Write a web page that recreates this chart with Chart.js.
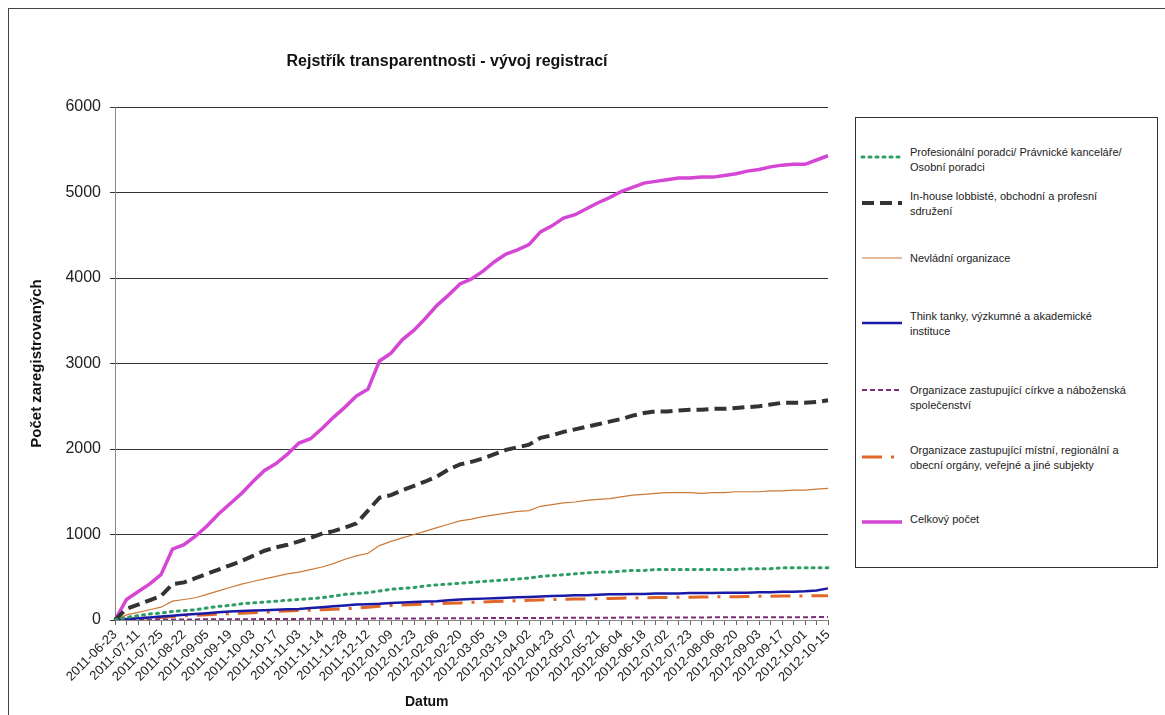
<!DOCTYPE html>
<html>
<head>
<meta charset="utf-8">
<script src="https://cdn.jsdelivr.net/npm/chart.js@4/dist/chart.umd.min.js"></script>
<style>
  html, body { margin:0; padding:0; background:#fff; width:1165px; height:715px; overflow:hidden; }
  body { position:relative; font-family:"Liberation Sans", Arial, sans-serif; }
  #frame { position:absolute; left:8px; top:8px; width:1200px; height:800px; border:1px solid #444; }
  #c { position:absolute; left:0; top:0; }
  #title { position:absolute; left:0; width:894px; top:52px; text-align:center; font-weight:bold; font-size:16px; color:#111; }
  #xtitle { position:absolute; left:405px; top:693px; font-weight:bold; font-size:14px; color:#111; }
  #legend { position:absolute; left:855px; top:117px; width:301px; height:449px; border:1px solid #333; background:#fff; }
  .item { position:absolute; left:0; width:300px; font-size:11px; line-height:15px; color:#222; }
  .item svg { position:absolute; left:4px; }
  .item .txt { position:absolute; left:54px; width:245px; white-space:nowrap; }
</style>
</head>
<body>
<div id="frame"></div>
<canvas id="c" width="1165" height="715"></canvas>
<div id="title">Rejstřík transparentnosti - vývoj registrací</div>
<div id="xtitle">Datum</div>
<div id="legend"></div>
<script>
const labels = [
 "2011-06-23","2011-07-04","2011-07-11","2011-07-18","2011-07-25","2011-08-08","2011-08-22","2011-08-29","2011-09-05","2011-09-12",
 "2011-09-19","2011-09-26","2011-10-03","2011-10-10","2011-10-17","2011-10-24","2011-11-03","2011-11-07","2011-11-14","2011-11-21",
 "2011-11-28","2011-12-05","2011-12-12","2011-12-19","2012-01-09","2012-01-16","2012-01-23","2012-01-30","2012-02-06","2012-02-13",
 "2012-02-20","2012-02-27","2012-03-05","2012-03-12","2012-03-19","2012-03-26","2012-04-02","2012-04-16","2012-04-23","2012-04-30",
 "2012-05-07","2012-05-14","2012-05-21","2012-05-28","2012-06-04","2012-06-11","2012-06-18","2012-06-25","2012-07-02","2012-07-16",
 "2012-07-23","2012-07-30","2012-08-06","2012-08-13","2012-08-20","2012-08-27","2012-09-03","2012-09-10","2012-09-17","2012-09-24",
 "2012-10-01","2012-10-08","2012-10-15"
];
const professional = [0,30,50,70,80,100,110,120,140,160,
 170,190,200,210,220,230,240,250,260,280,
 300,310,320,340,360,370,380,400,410,420,
 430,440,450,460,470,480,490,510,520,530,
 540,550,560,560,570,580,580,590,590,590,
 590,590,590,590,590,600,600,600,610,610,
 610,610,610];
const inhouse = [0,130,180,230,280,420,440,490,540,590,
 640,690,750,810,850,880,920,960,1010,1040,
 1080,1130,1280,1430,1460,1520,1570,1620,1680,1760,
 1820,1850,1890,1940,1990,2020,2050,2130,2160,2200,
 2230,2260,2290,2320,2350,2390,2420,2440,2440,2450,
 2460,2460,2470,2470,2480,2490,2500,2520,2540,2540,
 2540,2550,2570];
const ngo = [0,60,90,120,150,220,240,260,300,340,
 380,420,450,480,510,540,560,590,620,660,
 710,750,780,870,920,960,1000,1040,1080,1120,
 1160,1180,1210,1230,1250,1270,1280,1330,1350,1370,
 1380,1400,1410,1420,1440,1460,1470,1480,1490,1490,
 1490,1480,1490,1490,1500,1500,1500,1510,1510,1520,
 1520,1530,1540];
const thinkTanks = [0,10,20,30,40,50,60,70,80,90,
 100,105,110,115,120,125,130,140,150,160,
 170,180,185,190,200,205,210,215,220,230,
 240,245,250,255,260,265,270,275,280,285,
 290,290,295,300,300,305,305,310,310,310,
 315,315,315,320,320,320,325,325,330,330,
 335,345,370];
const churches = [0,2,3,4,5,6,6,7,8,8,
 9,10,10,11,12,12,13,14,14,15,
 15,16,16,17,18,18,19,19,20,20,
 21,21,22,22,23,23,24,24,25,25,
 26,26,27,27,28,28,29,29,29,30,
 30,30,31,31,31,32,32,32,33,33,
 33,34,35];
const localGov = [0,10,20,25,30,40,50,55,60,70,
 75,80,85,90,100,105,110,115,120,125,
 130,140,150,160,170,175,180,185,190,195,
 200,205,210,215,220,225,230,235,240,242,
 245,247,250,252,255,257,260,262,263,265,
 267,268,270,272,273,275,277,278,280,280,
 282,283,285];
const total = [0,240,330,420,530,830,880,980,1100,1240,
 1360,1480,1620,1750,1830,1940,2070,2120,2240,2370,
 2490,2620,2700,3030,3120,3280,3390,3530,3680,3800,
 3930,3990,4080,4190,4280,4330,4390,4540,4610,4700,
 4740,4810,4880,4940,5010,5060,5110,5130,5150,5170,
 5170,5180,5180,5200,5220,5250,5270,5300,5320,5330,
 5330,5380,5430];
const seriesNames = [
 "Profesionální poradci/ Právnické kanceláře/ Osobní poradci",
 "In-house lobbisté, obchodní a profesní sdružení",
 "Nevládní organizace",
 "Think tanky, výzkumné a akademické instituce",
 "Organizace zastupující církve a náboženská společenství",
 "Organizace zastupující místní, regionální a obecní orgány, veřejné a jiné subjekty",
 "Celkový počet"
];
const yTicks = [0,1000,2000,3000,4000,5000,6000];

const styles = [
 {color:'#2e9e64', width:3, dash:[2,5], cap:'round'},
 {color:'#333333', width:4, dash:[12,6], cap:'butt'},
 {color:'#cc7a38', width:1.2, dash:[], cap:'butt'},
 {color:'#1a1aa6', width:2.5, dash:[], cap:'butt'},
 {color:'#7a2e78', width:2, dash:[5,3], cap:'butt'},
 {color:'#e2682a', width:3, dash:[20,9,3,9], cap:'butt'},
 {color:'#d546d5', width:3.5, dash:[], cap:'butt'}
];
const values = [professional, inhouse, ngo, thinkTanks, churches, localGov, total];

const datasets = values.map((v,i)=>({
  label: seriesNames[i],
  data: v,
  borderColor: styles[i].color,
  borderWidth: styles[i].width,
  borderDash: styles[i].dash,
  borderCapStyle: styles[i].cap,
  pointRadius: 0,
  tension: 0,
  fill: false
}));

const FONT = '"Liberation Sans", Arial, sans-serif';

new Chart(document.getElementById('c'), {
  type: 'line',
  data: { labels: labels, datasets: datasets },
  options: {
    responsive: false,
    animation: false,
    layout: { padding: { left: 0, top: 107, right: 337, bottom: 0 } },
    plugins: { legend: { display: false }, tooltip: { enabled: false }, title: { display: false } },
    scales: {
      x: {
        grid: { drawOnChartArea: false, drawTicks: true, tickLength: 5, color: '#666' },
        border: { color: '#888' },
        ticks: {
          autoSkip: false, maxRotation: 45, minRotation: 45, padding: 2,
          font: { size: 13, family: FONT }, color: '#222',
          callback: (v, i) => (i % 2 === 0 ? labels[i] : '')
        },
        afterFit: (s) => { s.height = 95; }
      },
      y: {
        min: 0, max: 6000,
        afterBuildTicks: (s) => { s.ticks = yTicks.map(v => ({ value: v })); },
        ticks: { font: { size: 16, family: FONT }, color: '#222', padding: 9,
                 callback: (v) => String(v) },
        grid: { color: '#333', tickLength: 5 },
        border: { color: '#888' },
        title: { display: true, text: 'Počet zaregistrovaných', color: '#111',
                 font: { size: 15, weight: 'bold', family: FONT },
                 padding: { top: 28, bottom: 0 } },
        afterFit: (s) => { s.width = 115; }
      }
    }
  }
});

// HTML legend
const legendLayout = [
  {top: 145, sampleY: 12, lines: ["Profesionální poradci/ Právnické kanceláře/", "Osobní poradci"]},
  {top: 189, sampleY: 14, lines: ["In-house lobbisté, obchodní a profesní", "sdružení"]},
  {top: 251, sampleY: 7,  lines: ["Nevládní organizace"]},
  {top: 309, sampleY: 14, lines: ["Think tanky, výzkumné a akademické", "instituce"]},
  {top: 383, sampleY: 7,  lines: ["Organizace zastupující církve a náboženská", "společenství"]},
  {top: 443, sampleY: 14, lines: ["Organizace zastupující místní, regionální a", "obecní orgány, veřejné a jiné subjekty"]},
  {top: 512, sampleY: 10, lines: ["Celkový počet"]}
];
const leg = document.getElementById('legend');
legendLayout.forEach((L, i) => {
  const st = styles[i];
  const d = document.createElement('div');
  d.className = 'item';
  d.style.top = (L.top - 118) + 'px';
  const dash = st.dash.length ? st.dash.join(',') : 'none';
  d.innerHTML = '<svg width="44" height="30" style="top:0"><line x1="2" y1="' + L.sampleY + '" x2="42" y2="' + L.sampleY +
    '" stroke="' + st.color + '" stroke-width="' + st.width + '" stroke-dasharray="' + dash + '" stroke-linecap="' + st.cap + '"/></svg>' +
    '<div class="txt">' + L.lines.join('<br>') + '</div>';
  leg.appendChild(d);
});
</script>
</body>
</html>
